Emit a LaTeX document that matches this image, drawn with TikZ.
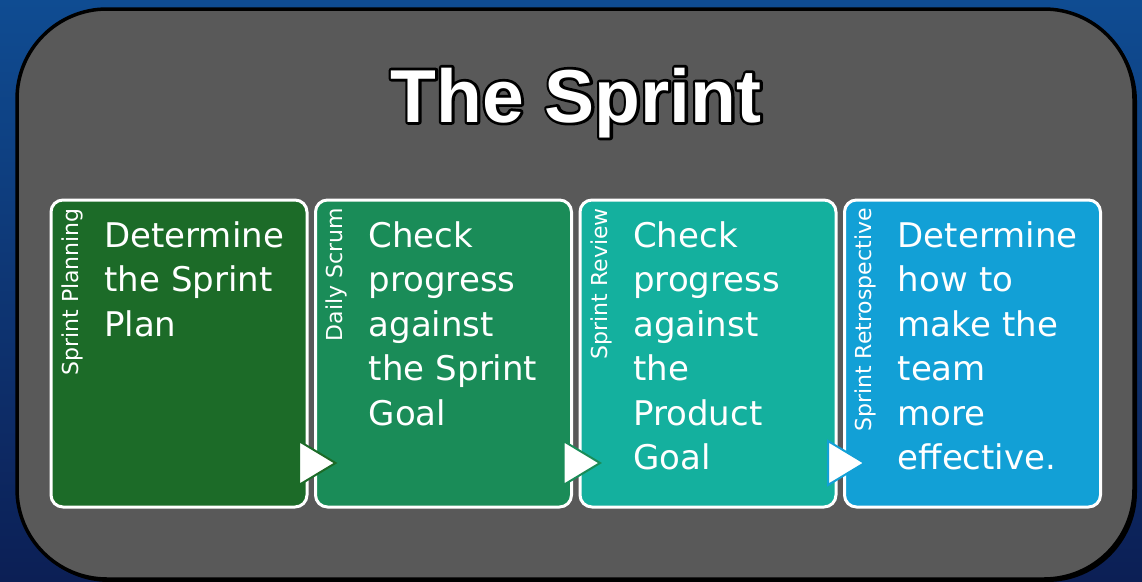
\documentclass[tikz,border=0pt]{standalone}
\usepackage{fontspec}
\setmainfont{DejaVu Sans}
\newfontfamily\headfont{Liberation Sans}
\usetikzlibrary{positioning,calc}

\definecolor{bgtop}{HTML}{0F4C92}
\definecolor{bgbot}{HTML}{0C1F55}
\definecolor{panel}{HTML}{595959}
\definecolor{planc}{HTML}{1C6B28}
\definecolor{scrumc}{HTML}{1A8C58}
\definecolor{reviewc}{HTML}{14B09E}
\definecolor{retroc}{HTML}{12A0D6}

% stroked text for the title outline
\newcommand{\outlined}[1]{\special{pdf:literal direct 2 Tr 5.5 w 1 j}#1\special{pdf:literal direct 0 Tr 1 w}}

\tikzset{
  stage/.style={draw=white, line width=3pt, rounded corners=12pt, minimum width=256pt,
    minimum height=307pt, inner sep=0pt, outer sep=0pt},
  event/.style={text=white, font=\fontsize{22}{22}\selectfont, rotate=90, anchor=base east, inner sep=0pt},
  goal/.style={text=white, font=\fontsize{34}{44.5}\selectfont, text width=200pt, align=left,
    anchor=base west, inner sep=0pt},
  headline/.style={font=\headfont\bfseries\fontsize{75}{75}\selectfont, anchor=base, inner sep=0pt},
  pointer/.style={fill=white, line width=2pt, line join=miter}
}

\begin{document}
\begin{tikzpicture}[x=1pt, y=-1pt]
  % Background
	\shade[top color=bgtop, bottom color=bgbot] (0,0) rectangle (1142,581);
	\useasboundingbox (0,0) rectangle (1142,581);

  % Panel
	\fill[black, rounded corners=90pt] (19,11) rectangle (1137,582);
	\filldraw[fill=panel, draw=black, line width=3.5pt, rounded corners=90pt] (17,9) rectangle (1134,579);

  % Title
	\node[headline, text=black] (title) at (576,122) {\outlined{The Sprint}};
	\node[headline, text=white] at (title.base) {The Sprint};

  % Stages
	\node[stage, fill=planc, anchor=north west] (plan) at (51,200) {};
	\node[stage, fill=scrumc, right=8.5pt of plan] (scrum) {};
	\node[stage, fill=reviewc, right=8.5pt of scrum] (review) {};
	\node[stage, fill=retroc, right=8.5pt of review] (retro) {};

  % Event names
	\foreach \s/\t in {plan/Sprint Planning, scrum/Daily Scrum, review/Sprint Review, retro/Sprint Retrospective}
	  \node[event] (\s name) at ($(\s.north west)+(27,8)$) {\t};

  % Goals
	\node[goal] (plan goal) at ($(plan.north west)+(53,47)$) {Determine\\the Sprint\\Plan};
	\node[goal] (scrum goal) at ($(scrum.north west)+(53,47)$) {Check\\progress\\against\\the Sprint\\Goal};
	\node[goal] (review goal) at ($(review.north west)+(53,47)$) {Check\\progress\\against\\the\\Product\\Goal};
	\node[goal] (retro goal) at ($(retro.north west)+(53,47)$) {Determine\\how to\\make the\\team\\more\\effective.};

  % Arrows between stages
	\foreach \a/\b/\c in {plan/scrum/planc, scrum/review/scrumc, review/retro/retroc}
	  \draw[pointer, draw=\c] ($(\a.south east)+(-8,-66)$) -- ($(\a.south east)+(-8,-22)$)
	    -- ($(\b.south west)+(20,-44)$) -- cycle;
\end{tikzpicture}
\end{document}
